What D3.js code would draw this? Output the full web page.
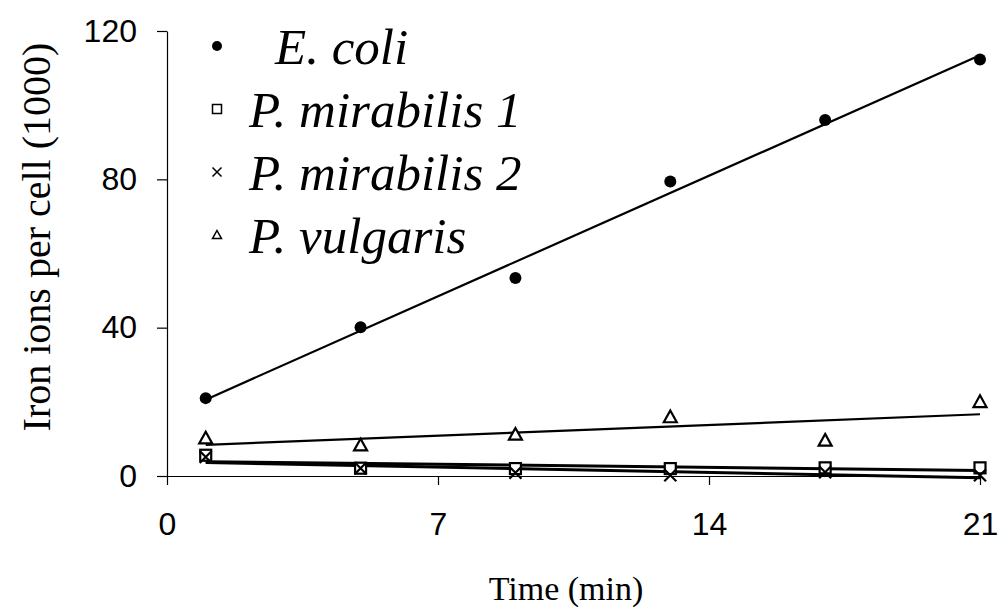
<!DOCTYPE html>
<html>
<head>
<meta charset="utf-8">
<script src="https://cdn.jsdelivr.net/npm/d3@7"></script>
<style>
  body { margin: 0; background: #fff; }
  svg { display: block; }
  .serif { font-family: "Liberation Serif", "Times New Roman", Times, "DejaVu Serif", serif; }
  .sans { font-family: "Liberation Sans", Arial, Helvetica, sans-serif; }
</style>
</head>
<body>
<div id="chart"></div>
<script>
// time points (min)
var times = [1, 5, 9, 13, 17, 21];

// iron ions per cell (x1000)
var ecoli = [21.0, 40.1, 53.4, 79.4, 96.0, 112.3];
var mirabilis1 = [5.6, 2.1, 2.0, 2.0, 2.2, 2.2];
var mirabilis2 = [5.1, 2.1, 0.9, 0.2, 1.0, 0.2];
var vulgaris = [10.2, 8.3, 11.2, 15.9, 9.6, 20.0];

var seriesNames = ["E. coli", "P. mirabilis 1", "P. mirabilis 2", "P. vulgaris"];
var seriesSymbols = ["circle", "square", "cross", "triangle"];

var xTicks = [0, 7, 14, 21];
var yTicks = [0, 40, 80, 120];

var series = [ecoli, mirabilis1, mirabilis2, vulgaris].map(function(vals, i) {
  return {
    name: seriesNames[i],
    symbol: seriesSymbols[i],
    points: vals.map(function(v, j) { return {t: times[j], v: v}; })
  };
});

var width = 999, height = 613;

var svg = d3.select("#chart")
  .append("svg")
    .attr("width", width)
    .attr("height", height);

var x = d3.scaleLinear().domain([0, 21]).range([167, 980]);
var y = d3.scaleLinear().domain([0, 120]).range([476, 31]);

// axes
var xAxis = svg.append("g")
  .attr("transform", "translate(0," + y(0) + ")")
  .call(d3.axisBottom(x).tickValues(xTicks).tickSize(9).tickSizeOuter(0).tickPadding(27));

var yAxis = svg.append("g")
  .attr("transform", "translate(" + x(0) + ",0)")
  .call(d3.axisLeft(y).tickValues(yTicks).tickSize(10).tickSizeOuter(0).tickPadding(20));

svg.selectAll(".domain, .tick line")
  .attr("stroke", "#000")
  .attr("stroke-width", 1.2);

svg.selectAll("g").attr("font-family", null);
svg.selectAll(".tick text")
  .attr("class", "sans")
  .attr("fill", "#000")
  .style("font-size", "32px");

// axis titles
svg.append("text")
  .attr("class", "serif")
  .attr("transform", "translate(50,237) rotate(-90)")
  .attr("text-anchor", "middle")
  .style("font-size", "40px")
  .text("Iron ions per cell (1000)");

svg.append("text")
  .attr("class", "serif")
  .attr("x", 566)
  .attr("y", 600)
  .attr("text-anchor", "middle")
  .style("font-size", "34px")
  .text("Time (min)");

// least squares trend line for a series
function fit(points) {
  var mt = d3.mean(points, function(d) { return d.t; });
  var mv = d3.mean(points, function(d) { return d.v; });
  var sxy = d3.sum(points, function(d) { return (d.t - mt) * (d.v - mv); });
  var stt = d3.sum(points, function(d) { return (d.t - mt) * (d.t - mt); });
  var b = sxy / stt;
  var a = mv - b * mt;
  var t0 = d3.min(points, function(d) { return d.t; });
  var t1 = d3.max(points, function(d) { return d.t; });
  return [{t: t0, v: a + b * t0}, {t: t1, v: a + b * t1}];
}

var line = d3.line()
  .x(function(d) { return x(d.t); })
  .y(function(d) { return y(d.v); });

svg.selectAll(".trend")
  .data(series)
  .enter()
  .append("path")
    .attr("class", "trend")
    .attr("d", function(d) { return line(fit(d.points)); })
    .attr("fill", "none")
    .attr("stroke", "#000")
    .attr("stroke-width", function(d) { return d.symbol == "square" || d.symbol == "cross" ? 3 : 2.2; });

// draw a marker of a given kind into a group
function marker(g, kind, s, sw) {
  if (kind == "circle") {
    g.append("circle").attr("r", s / 2).attr("fill", "#000");
  } else if (kind == "square") {
    g.append("rect")
      .attr("x", -s / 2).attr("y", -s / 2)
      .attr("width", s).attr("height", s)
      .attr("fill", "#fff").attr("stroke", "#000").attr("stroke-width", sw);
  } else if (kind == "cross") {
    var h = s / 2;
    g.append("path")
      .attr("d", "M" + (-h) + "," + (-h) + "L" + h + "," + h + "M" + (-h) + "," + h + "L" + h + "," + (-h))
      .attr("stroke", "#000").attr("stroke-width", sw);
  } else {
    var h = s / 2;
    g.append("path")
      .attr("d", "M0," + (-h) + "L" + h + "," + (h * 0.8) + "L" + (-h) + "," + (h * 0.8) + "Z")
      .attr("fill", "#fff").attr("stroke", "#000").attr("stroke-width", sw);
  }
}

var sizes = {circle: 12, square: 11, cross: 12, triangle: 13};

series.forEach(function(s) {
  svg.append("g")
    .selectAll("g")
    .data(s.points)
    .enter()
    .append("g")
      .attr("transform", function(d) { return "translate(" + x(d.t) + "," + y(d.v) + ")"; })
      .each(function() { marker(d3.select(this), s.symbol, sizes[s.symbol], 2.2); });
});

// legend
var legend = svg.append("g");
var rows = legend.selectAll("g")
  .data(series)
  .enter()
  .append("g")
    .attr("transform", function(d, i) { return "translate(217," + (46 + i * 63) + ")"; });

rows.each(function(d) {
  var sz = d.symbol == "circle" ? 10 : 9;
  marker(d3.select(this), d.symbol, sz, 1.5);
});

rows.append("text")
  .attr("class", "serif")
  .attr("x", function(d, i) { return i == 0 ? 58 : 32; })
  .attr("y", 18)
  .style("font-style", "italic")
  .style("font-size", "51px")
  .text(function(d) { return d.name; });
</script>
</body>
</html>
